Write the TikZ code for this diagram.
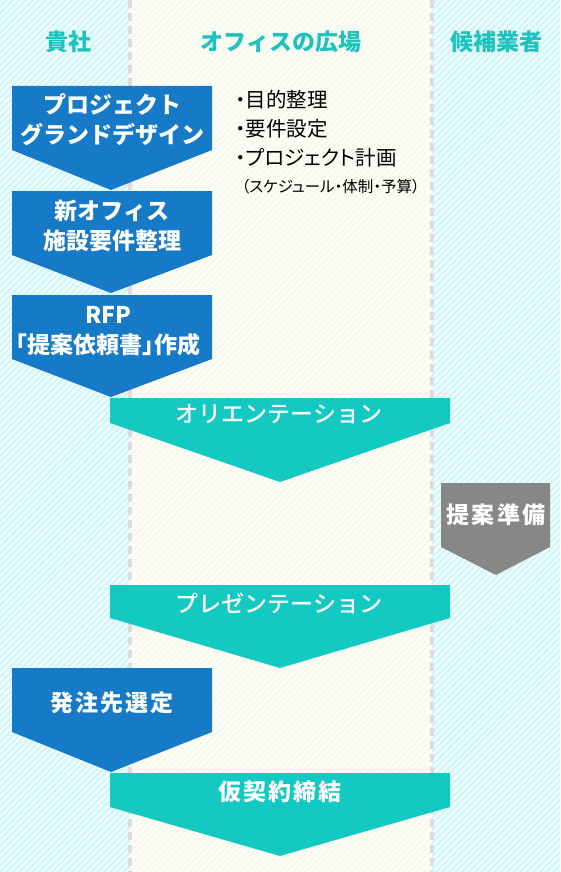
\documentclass[tikz,border=0pt]{standalone}
\usepackage{fontspec}
\setmainfont{Noto Sans CJK JP}
\newfontfamily\jpprop{Noto Sans CJK JP}[RawFeature=+palt]
\newfontfamily\jpmed{Noto Sans CJK JP Medium}
\usetikzlibrary{patterns.meta}

\definecolor{lanecyan}{HTML}{F2FDFE}
\definecolor{stripecyan}{HTML}{CFF7F9}
\definecolor{lanecream}{HTML}{FEFEFA}
\definecolor{stripecream}{HTML}{F7FAEB}
\definecolor{dashgray}{HTML}{DCDCDC}
\definecolor{flowblue}{HTML}{167AC7}
\definecolor{flowteal}{HTML}{15C9C3}
\definecolor{flowgray}{HTML}{878787}
\definecolor{headteal}{HTML}{1EC3BD}

\tikzset{
  stripes/.style={pattern={Lines[angle=45,distance=4.6pt,line width=2.2pt]}, pattern color=#1},
  lanedash/.style={dashgray, line width=4pt, dash pattern=on 8pt off 5pt},
  lanehead/.style={headteal, font=\fontsize{23}{26}\selectfont\bfseries},
  bluestep/.style={fill=flowblue},
  tealstep/.style={fill=flowteal},
  graystep/.style={fill=flowgray},
  steptext/.style={white, align=center, font=\fontsize{23}{30}\selectfont\bfseries},
  thintext/.style={steptext, font=\jpmed\fontsize{23}{30}\selectfont},
  widetext/.style={steptext, font=\fontsize{23}{30}\selectfont\bfseries\addfontfeature{LetterSpace=9}},
  notetext/.style={black, align=left, anchor=west, font=\jpprop\fontsize{20.5}{29}\selectfont}
}

\begin{document}
\begin{tikzpicture}[x=1pt,y=-1pt]
  \useasboundingbox (0,0) rectangle (560,872);
  % lanes
  \fill[lanecyan] (0,0) rectangle (130,872);
  \fill[stripes=stripecyan] (0,0) rectangle (130,872);
  \fill[lanecream] (130,0) rectangle (432,872);
  \fill[stripes=stripecream] (130,0) rectangle (432,872);
  \fill[lanecyan] (432,0) rectangle (560,872);
  \fill[stripes=stripecyan] (432,0) rectangle (560,872);
  \foreach \x in {130,432} \draw[lanedash] (\x,0) -- (\x,872);

  \node[lanehead] (client) at (68,42) {貴社};
  \node[lanehead] (office) at (281,42) {オフィスの広場};
  \node[lanehead] (vendor) at (496,42) {候補業者};

  % steps
  \fill[bluestep] (12,86) -- (212,86) -- (212,150) -- (111,190) -- (12,150) -- cycle;
  \fill[bluestep] (12,191) -- (212,191) -- (212,255) -- (111,293) -- (12,255) -- cycle;
  \fill[bluestep] (12,295) -- (212,295) -- (212,359) -- (111,397) -- (12,359) -- cycle;
  \fill[tealstep] (110,398) -- (450,398) -- (450,423) -- (280,482) -- (110,423) -- cycle;
  \fill[graystep] (441,483) -- (550,483) -- (550,547) -- (496,575) -- (441,547) -- cycle;
  \fill[tealstep] (110,585) -- (450,585) -- (450,618) -- (280,668) -- (110,618) -- cycle;
  \fill[bluestep] (12,668) -- (212,668) -- (212,732) -- (111,772) -- (12,732) -- cycle;
  \fill[tealstep] (110,773) -- (450,773) -- (450,807) -- (280,856) -- (110,807) -- cycle;

  \node[steptext] (design) at (112,120) {プロジェクト\\グランドデザイン};
  \node[steptext] (require) at (112,226) {新オフィス\\施設要件整理};
  \node[steptext] (rfp) at (108,331) {RFP\\{\jpprop「提案依頼書」作成}};
  \node[thintext] (orient) at (279,414) {オリエンテーション};
  \node[widetext] (prepare) at (496,515) {提案準備};
  \node[thintext] (present) at (279,603) {プレゼンテーション};
  \node[widetext] (select) at (112,703) {発注先選定};
  \node[widetext] (contract) at (280,792) {仮契約締結};

  \node[notetext] (plan) at (232,129) {・目的整理\\・要件設定\\・プロジェクト計画};
  \node[notetext, font=\jpprop\fontsize{15.5}{18}\selectfont] (plannote) at (238,187) {（スケジュール・体制・予算）};
\end{tikzpicture}
\end{document}
